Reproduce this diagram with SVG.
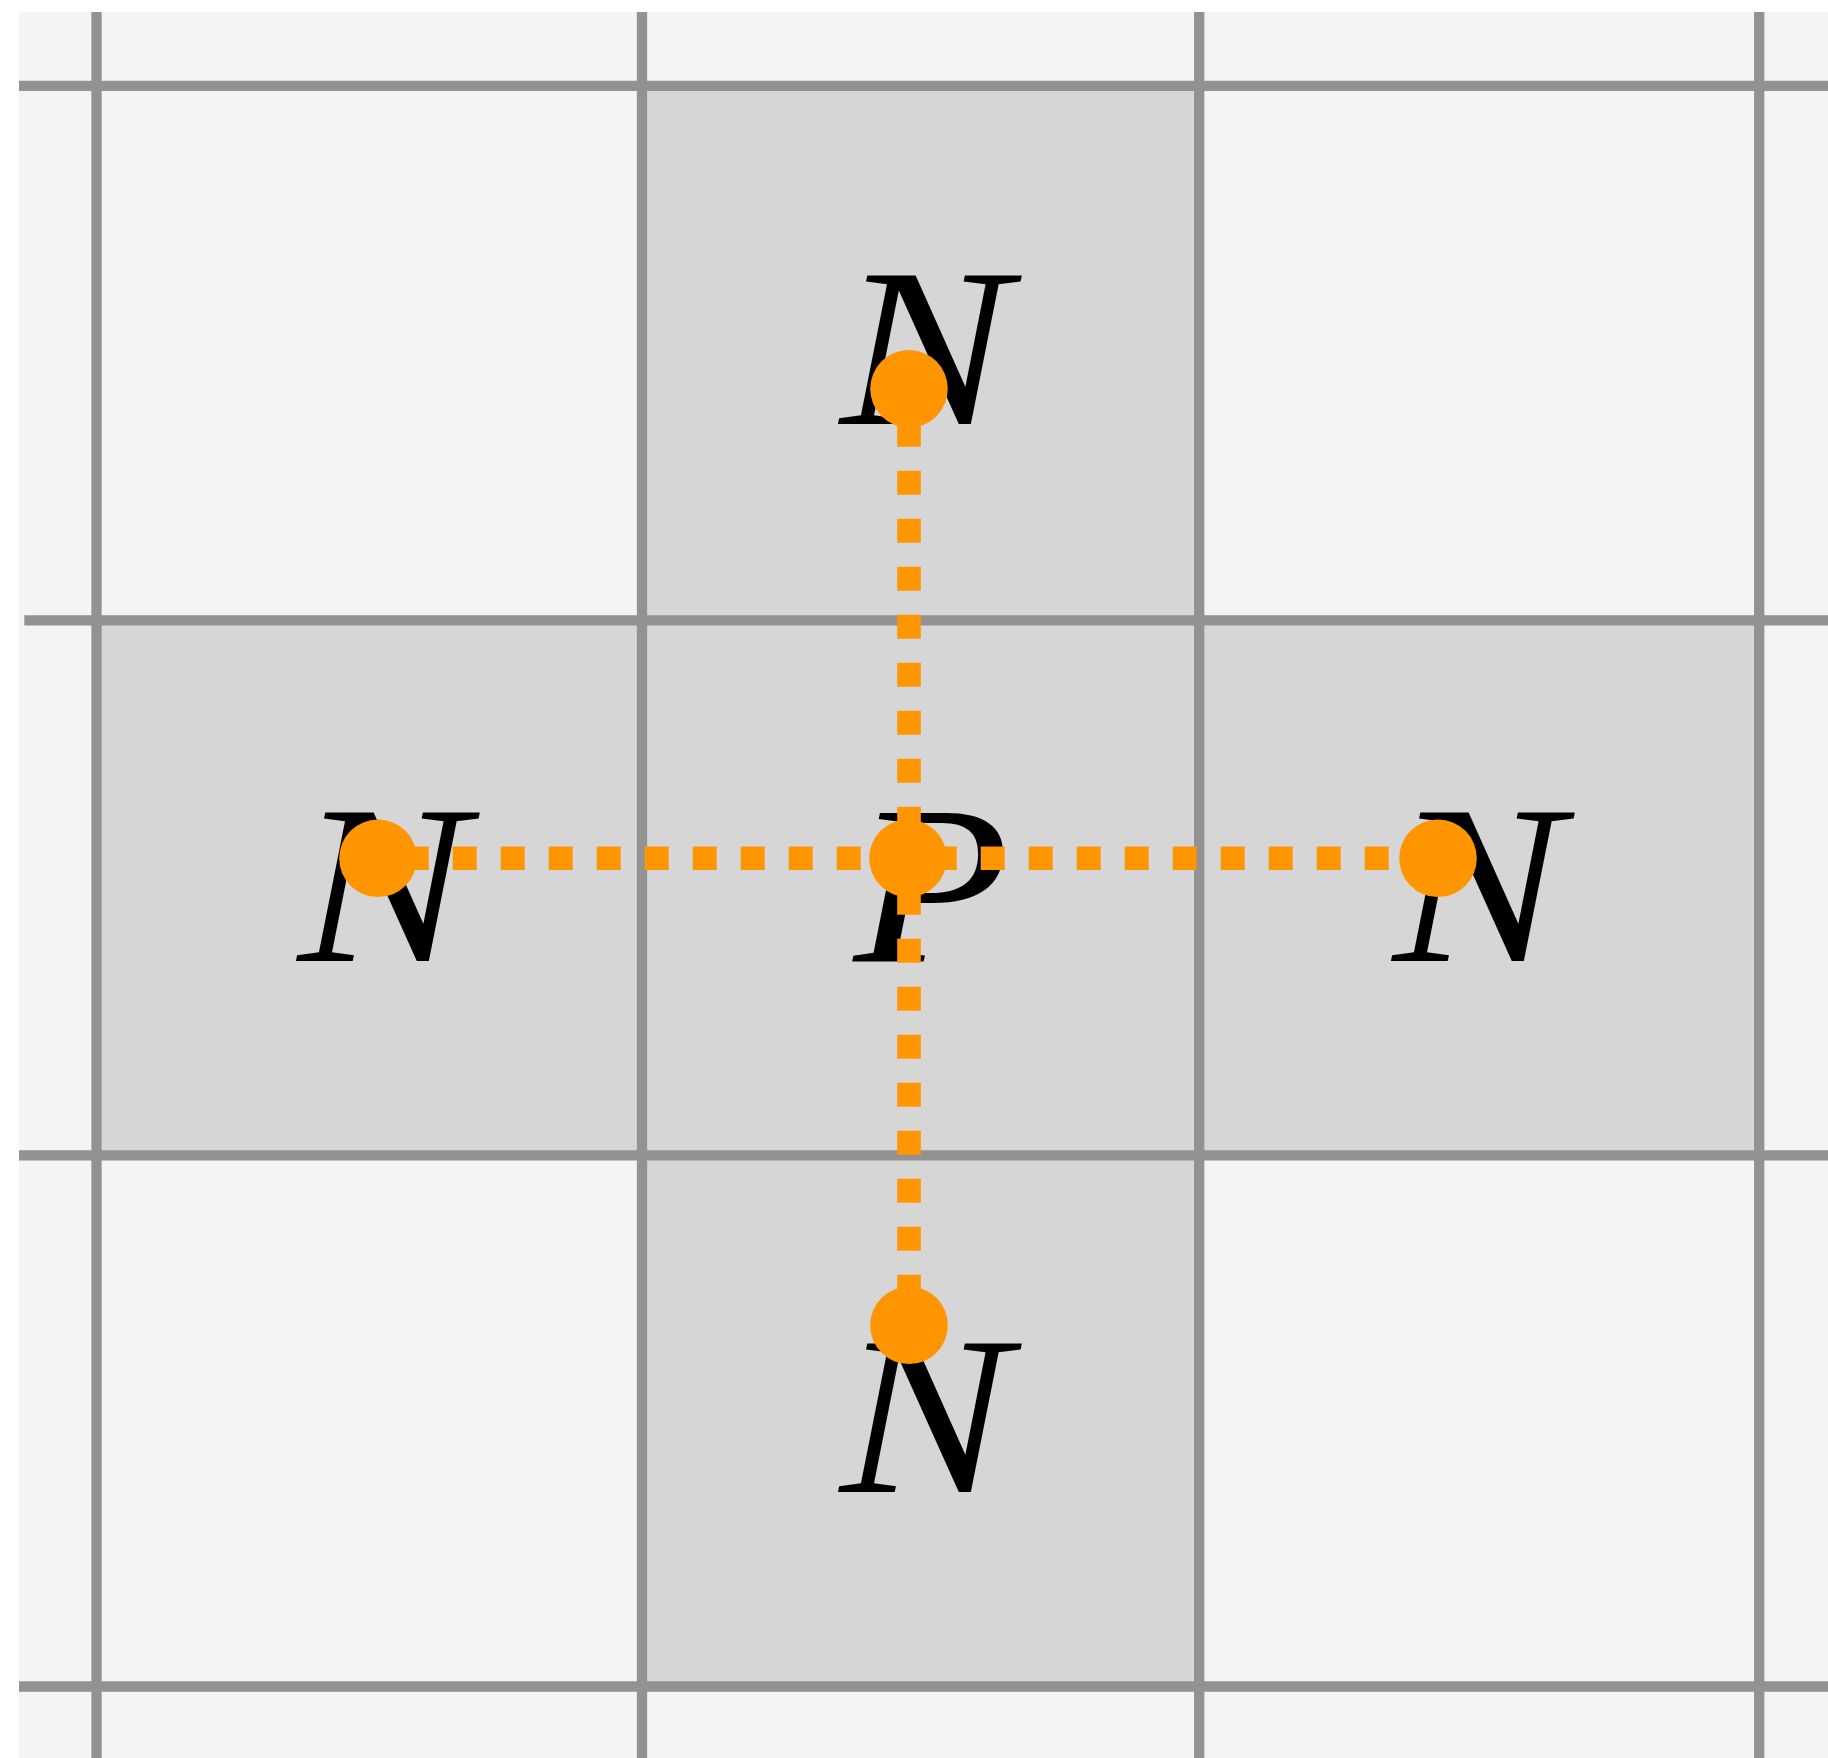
<svg xmlns="http://www.w3.org/2000/svg" width="1828" height="1758" viewBox="0 0 1828 1758">
<style>
.grid{stroke:#929292;stroke-width:10.3;fill:none}
.cell{fill:#d6d6d6}
.lbl{font-family:"Liberation Serif","Times New Roman",serif;font-style:italic;font-size:226px;fill:#000;text-anchor:middle}
.link{stroke:#ff9500;stroke-width:23.6;stroke-dasharray:24 24;fill:none}
.dot{fill:#ff9500}
</style>
<rect x="19" y="12" width="1809" height="1746" fill="#f4f4f4"/>
<g id="cells">
<rect class="cell" x="642" y="85.8" width="557.2" height="534.5"/>
<rect class="cell" x="96.5" y="620.3" width="1662.7" height="535"/>
<rect class="cell" x="642" y="1155.3" width="557.2" height="531.2"/>
</g>
<g id="grid">
<line class="grid" x1="96.5" y1="12" x2="96.5" y2="1758"/>
<line class="grid" x1="642" y1="12" x2="642" y2="1758"/>
<line class="grid" x1="1199.2" y1="12" x2="1199.2" y2="1758"/>
<line class="grid" x1="1759.2" y1="12" x2="1759.2" y2="1758"/>
<line class="grid" x1="19" y1="85.8" x2="1828" y2="85.8"/>
<line class="grid" x1="24.3" y1="620.4" x2="1828" y2="620.4"/>
<line class="grid" x1="19" y1="1155.4" x2="1828" y2="1155.4"/>
<line class="grid" x1="19" y1="1686.5" x2="1828" y2="1686.5"/>
</g>
<g id="labels">
<g id="n-top"><text class="lbl" transform="translate(925 424) scale(1.13 1)">N</text></g>
<g id="p-center"><text class="lbl" transform="translate(931.5 961) scale(1.13 1)">P</text></g>
<g id="n-left"><text class="lbl" transform="translate(383 961) scale(1.13 1)">N</text></g>
<g id="n-right"><text class="lbl" transform="translate(1478 961) scale(1.13 1)">N</text></g>
<g id="n-bottom"><text class="lbl" transform="translate(925 1492) scale(1.13 1)">N</text></g>
</g>
<g id="connectors">
<line class="link" x1="378" y1="858.3" x2="1438" y2="858.3" stroke-dashoffset="21.3"/>
<line class="link" x1="909" y1="388.8" x2="909" y2="858.3" stroke-dashoffset="14.1"/>
<line class="link" x1="909" y1="858.3" x2="909" y2="1325.3" stroke-dashoffset="15.6"/>
</g>
<g id="points">
<circle class="dot" cx="909" cy="388.8" r="38.8"/>
<circle class="dot" cx="908" cy="858.3" r="38.8"/>
<circle class="dot" cx="378" cy="858.3" r="38.8"/>
<circle class="dot" cx="1438" cy="858.3" r="38.8"/>
<circle class="dot" cx="909" cy="1325.3" r="38.8"/>
</g>
</svg>
